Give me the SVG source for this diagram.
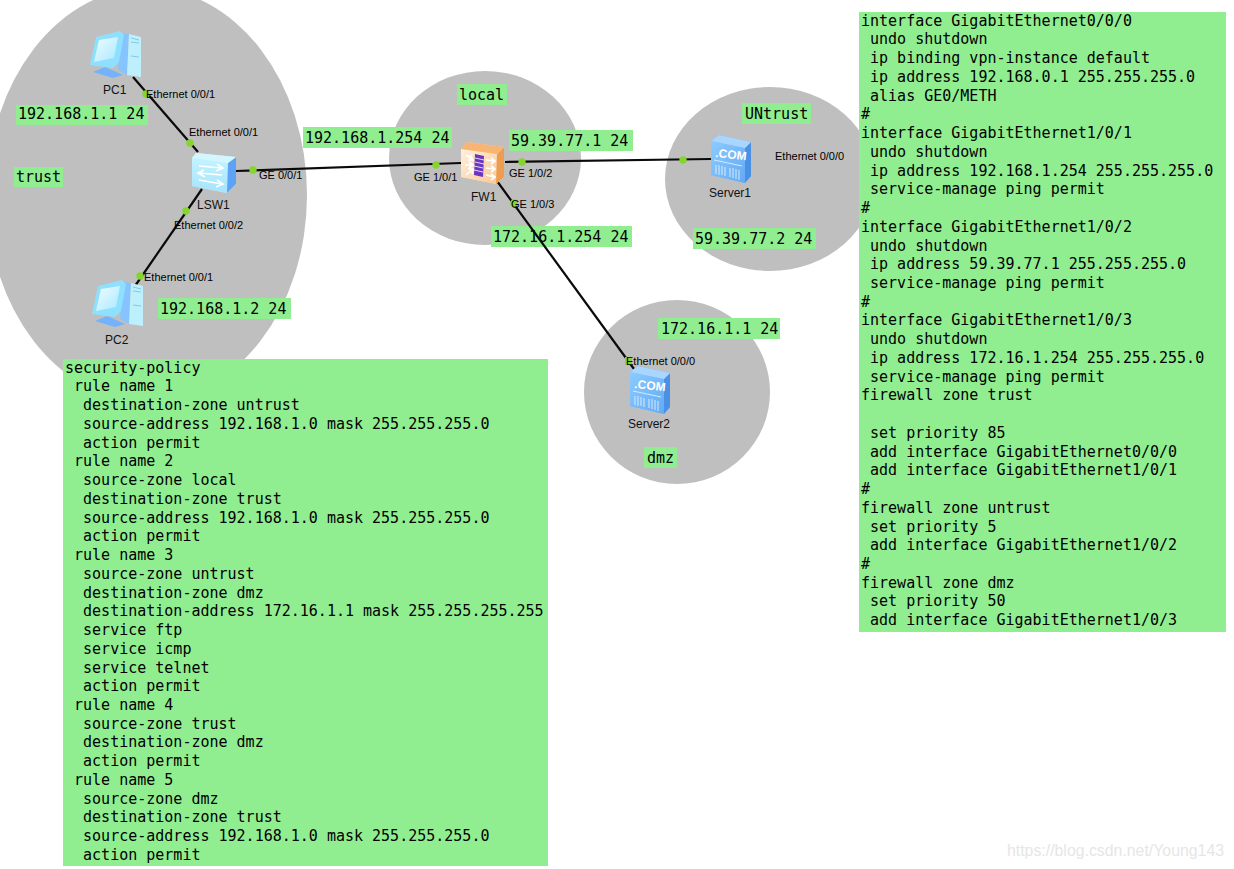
<svg xmlns="http://www.w3.org/2000/svg" width="1234" height="869" viewBox="0 0 1234 869">
<style>
.zone{fill:#bfbfbf}
.hl{fill:#90ee90}
.m{font-family:"DejaVu Sans Mono",monospace;font-size:15px;fill:#000;white-space:pre}
.s{font-family:"Liberation Sans",Arial,sans-serif;font-size:11px;fill:#000}
.l{font-family:"Liberation Sans",Arial,sans-serif;font-size:12px;fill:#111}
.c{stroke:#0a0a0a;stroke-width:2.2;fill:none}
.d{fill:#84d62c}
.wa{stroke:#fff;stroke-width:1.6;fill:none}
</style>
<defs>
<linearGradient id="scr" x1="0" y1="0" x2="1" y2="1"><stop offset="0" stop-color="#f0fdff"/><stop offset="1" stop-color="#a8e8ff"/></linearGradient>
<linearGradient id="swf" x1="0" y1="0" x2="0" y2="1"><stop offset="0" stop-color="#c4f3ff"/><stop offset="1" stop-color="#a4e4fb"/></linearGradient>
<linearGradient id="fwf" x1="0" y1="0" x2="1" y2="1"><stop offset="0" stop-color="#fff0dc"/><stop offset="1" stop-color="#fbc896"/></linearGradient>
<linearGradient id="srf" x1="0" y1="0" x2="1" y2="1"><stop offset="0" stop-color="#8ccbff"/><stop offset="1" stop-color="#64aaf5"/></linearGradient>
<g id="pc">
<path d="M93 72 L105 67 L123 75 L113 78Z" fill="#74b2fb"/>
<path d="M121 33 L129 34 L127 75 L118 70Z" fill="#86c4ff"/>
<path d="M129 34 L141 37 L141 77 L127 75Z" fill="#bdf0fc"/>
<path d="M131 38 L139 40 M131 42 L139 43 M131 56 L139 57" stroke="#86c8e4" stroke-width="1" fill="none"/>
<path d="M120 31 L124 35 L119 62 L113 68 L90 65 L96 37Z" fill="#8ee0ff"/>
<path d="M99 40 L118 37 L114 58 L94 62Z" fill="url(#scr)"/>
</g>
<g id="srv">
<path d="M0 6 L8 0 L40 7 L40 41 L34 48 L0 40Z" fill="#74b6fb"/>
<path d="M0 6 L34 13 L34 48 L0 40Z" fill="url(#srf)"/>
<path d="M34 13 L40 7 L40 41 L34 48Z" fill="#4a90e4"/>
<path d="M0 6 L8 0 L40 7 L34 13Z" fill="#a8d6ff"/>
<text x="4" y="22" font-family="Liberation Sans,sans-serif" font-size="12" font-weight="bold" fill="#fff" transform="rotate(6 4 22)">.COM</text>
<path d="M3 25 L31 31 M5 30 V39 M8 30 V40 M11 31 V40 M14 32 V41 M19 33 V42 M22 33 V43 M25 34 V44 M28 35 V45" stroke="#d4ecff" stroke-width="1" fill="none"/>
</g>
</defs>
<rect width="1234" height="869" fill="#fff"/>
<g id="zones">
<ellipse class="zone" cx="147" cy="195" rx="160" ry="207"/>
<ellipse class="zone" cx="485" cy="158" rx="96" ry="87"/>
<ellipse class="zone" cx="770" cy="179" rx="105" ry="92"/>
<ellipse class="zone" cx="677" cy="392" rx="93" ry="92"/>
</g>
<g id="labels">
<rect class="hl" x="16" y="105" width="132" height="20"/>
<rect class="hl" x="14" y="167" width="49" height="20"/>
<rect class="hl" x="158" y="298" width="133" height="21"/>
<rect class="hl" x="303" y="127" width="149" height="21"/>
<rect class="hl" x="457" y="84" width="50" height="21"/>
<rect class="hl" x="509" y="130" width="124" height="21"/>
<rect class="hl" x="491" y="226" width="141" height="21"/>
<rect class="hl" x="742" y="103" width="69" height="21"/>
<rect class="hl" x="693" y="228" width="123" height="21"/>
<rect class="hl" x="658" y="318" width="122" height="21"/>
<rect class="hl" x="644" y="447" width="33" height="21"/>
<text class="m" x="18" y="119">192.168.1.1 24</text>
<text class="m" x="16" y="182">trust</text>
<text class="m" x="160" y="314">192.168.1.2 24</text>
<text class="m" x="305" y="143">192.168.1.254 24</text>
<text class="m" x="459" y="100">local</text>
<text class="m" x="511" y="146">59.39.77.1 24</text>
<text class="m" x="493" y="242">172.16.1.254 24</text>
<text class="m" x="745" y="119">UNtrust</text>
<text class="m" x="695" y="244">59.39.77.2 24</text>
<text class="m" x="661" y="334">172.16.1.1 24</text>
<text class="m" x="647" y="463">dmz</text>
</g>
<g id="connectors">
<path class="c" d="M133 77 L198 152"/>
<path class="c" d="M202 189 L135 286"/>
<path class="c" d="M236 171 L461 163"/>
<path class="c" d="M505 162 L711 159"/>
<path class="c" d="M497 181 L634 369"/>
<circle class="d" cx="146" cy="94" r="3.7"/>
<circle class="d" cx="190" cy="143" r="3.7"/>
<circle class="d" cx="186" cy="211" r="3.7"/>
<circle class="d" cx="140" cy="276" r="3.7"/>
<circle class="d" cx="253" cy="170" r="3.7"/>
<circle class="d" cx="436" cy="165" r="3.7"/>
<circle class="d" cx="522" cy="162" r="3.7"/>
<circle class="d" cx="683" cy="160" r="3.7"/>
<circle class="d" cx="514" cy="203" r="3.7"/>
<rect class="d" x="625" y="357" width="7" height="8"/>
</g>
<g id="PC1"><use href="#pc"/><text class="l" x="103" y="94">PC1</text></g>
<g id="PC2"><use href="#pc" x="2" y="249"/><text class="l" x="105" y="344">PC2</text></g>
<g id="LSW1">
<path d="M192 158 L196 153 L236 157 L236 184 L227 193 L192 186Z" fill="#b8efff"/>
<path d="M192 158 L228 163 L227 193 L192 186Z" fill="url(#swf)"/>
<path d="M228 163 L236 157 L236 184 L227 193Z" fill="#5ca3f5"/>
<path d="M192 158 L196 153 L236 157 L228 163Z" fill="#d4f7ff"/>
<g class="wa">
<path d="M199 166 L222 168 M217 164 L223 168 L216 171"/>
<path d="M199 173 L222 175 M204 170 L198 173 L205 177"/>
<path d="M199 180 L222 184 M217 180 L223 184 L216 187"/>
</g>
<text class="l" x="197" y="209">LSW1</text>
</g>
<g id="FW1">
<path d="M461 149 L467 142 L504 147 L504 177 L496 184 L461 177Z" fill="#fbd5ac"/>
<path d="M461 149 L497 154 L496 184 L461 177Z" fill="url(#fwf)"/>
<path d="M497 154 L504 147 L504 177 L496 184Z" fill="#ee9c50"/>
<path d="M461 149 L467 142 L504 147 L497 154Z" fill="#f7b473"/>
<path d="M475 154 L484 156 L483 177 L474 175Z" fill="#6a35c0"/>
<path d="M475 158 L484 160 M475 162 L484 164 M474 166 L483 168 M474 170 L483 172" stroke="#fff" stroke-width="0.8"/>
<g class="wa">
<path d="M466 155 L472 159 M470 155 L473 160 L468 160"/>
<path d="M465 165 L472 165 M469 162 L473 165 L469 168"/>
<path d="M466 175 L472 170 M468 169 L473 169 L472 174"/>
<path d="M486 160 L494 161 M491 158 L495 161 L491 164"/>
<path d="M486 168 L494 169 M491 166 L495 169 L491 172"/>
<path d="M486 175 L494 177 M491 174 L495 177 L491 180"/>
</g>
<text class="l" x="471" y="201">FW1</text>
</g>
<g id="Server1"><use href="#srv" x="711" y="135"/><text class="l" x="709" y="197">Server1</text></g>
<g id="Server2"><use href="#srv" x="630" y="366"/><text class="l" x="628" y="428">Server2</text></g>
<g id="port-labels">
<text class="s" x="146" y="98">Ethernet 0/0/1</text>
<text class="s" x="189" y="136">Ethernet 0/0/1</text>
<text class="s" x="174" y="229">Ethernet 0/0/2</text>
<text class="s" x="144" y="281">Ethernet 0/0/1</text>
<text class="s" x="259" y="179">GE 0/0/1</text>
<text class="s" x="414" y="181">GE 1/0/1</text>
<text class="s" x="509" y="177">GE 1/0/2</text>
<text class="s" x="511" y="208">GE 1/0/3</text>
<text class="s" x="775" y="160">Ethernet 0/0/0</text>
<text class="s" x="626" y="365">Ethernet 0/0/0</text>
</g>
<g id="policy">
<rect class="hl" x="63" y="359" width="485" height="507"/>
<text class="m" x="65" y="373">security-policy</text>
<text class="m" x="65" y="391">&#160;rule name 1</text>
<text class="m" x="65" y="410">&#160;&#160;destination-zone untrust</text>
<text class="m" x="65" y="429">&#160;&#160;source-address 192.168.1.0 mask 255.255.255.0</text>
<text class="m" x="65" y="448">&#160;&#160;action permit</text>
<text class="m" x="65" y="466">&#160;rule name 2</text>
<text class="m" x="65" y="485">&#160;&#160;source-zone local</text>
<text class="m" x="65" y="504">&#160;&#160;destination-zone trust</text>
<text class="m" x="65" y="523">&#160;&#160;source-address 192.168.1.0 mask 255.255.255.0</text>
<text class="m" x="65" y="541">&#160;&#160;action permit</text>
<text class="m" x="65" y="560">&#160;rule name 3</text>
<text class="m" x="65" y="579">&#160;&#160;source-zone untrust</text>
<text class="m" x="65" y="598">&#160;&#160;destination-zone dmz</text>
<text class="m" x="65" y="616">&#160;&#160;destination-address 172.16.1.1 mask 255.255.255.255</text>
<text class="m" x="65" y="635">&#160;&#160;service ftp</text>
<text class="m" x="65" y="654">&#160;&#160;service icmp</text>
<text class="m" x="65" y="673">&#160;&#160;service telnet</text>
<text class="m" x="65" y="691">&#160;&#160;action permit</text>
<text class="m" x="65" y="710">&#160;rule name 4</text>
<text class="m" x="65" y="729">&#160;&#160;source-zone trust</text>
<text class="m" x="65" y="747">&#160;&#160;destination-zone dmz</text>
<text class="m" x="65" y="766">&#160;&#160;action permit</text>
<text class="m" x="65" y="785">&#160;rule name 5</text>
<text class="m" x="65" y="804">&#160;&#160;source-zone dmz</text>
<text class="m" x="65" y="822">&#160;&#160;destination-zone trust</text>
<text class="m" x="65" y="841">&#160;&#160;source-address 192.168.1.0 mask 255.255.255.0</text>
<text class="m" x="65" y="860">&#160;&#160;action permit</text>
</g>
<g id="config">
<rect class="hl" x="859" y="12" width="367" height="620"/>
<text class="m" x="861" y="26">interface GigabitEthernet0/0/0</text>
<text class="m" x="861" y="44">&#160;undo shutdown</text>
<text class="m" x="861" y="63">&#160;ip binding vpn-instance default</text>
<text class="m" x="861" y="82">&#160;ip address 192.168.0.1 255.255.255.0</text>
<text class="m" x="861" y="101">&#160;alias GE0/METH</text>
<text class="m" x="861" y="119">#</text>
<text class="m" x="861" y="138">interface GigabitEthernet1/0/1</text>
<text class="m" x="861" y="157">&#160;undo shutdown</text>
<text class="m" x="861" y="176">&#160;ip address 192.168.1.254 255.255.255.0</text>
<text class="m" x="861" y="194">&#160;service-manage ping permit</text>
<text class="m" x="861" y="213">#</text>
<text class="m" x="861" y="232">interface GigabitEthernet1/0/2</text>
<text class="m" x="861" y="251">&#160;undo shutdown</text>
<text class="m" x="861" y="269">&#160;ip address 59.39.77.1 255.255.255.0</text>
<text class="m" x="861" y="288">&#160;service-manage ping permit</text>
<text class="m" x="861" y="307">#</text>
<text class="m" x="861" y="325">interface GigabitEthernet1/0/3</text>
<text class="m" x="861" y="344">&#160;undo shutdown</text>
<text class="m" x="861" y="363">&#160;ip address 172.16.1.254 255.255.255.0</text>
<text class="m" x="861" y="382">&#160;service-manage ping permit</text>
<text class="m" x="861" y="400">firewall zone trust</text>
<text class="m" x="861" y="438">&#160;set priority 85</text>
<text class="m" x="861" y="457">&#160;add interface GigabitEthernet0/0/0</text>
<text class="m" x="861" y="475">&#160;add interface GigabitEthernet1/0/1</text>
<text class="m" x="861" y="494">#</text>
<text class="m" x="861" y="513">firewall zone untrust</text>
<text class="m" x="861" y="532">&#160;set priority 5</text>
<text class="m" x="861" y="550">&#160;add interface GigabitEthernet1/0/2</text>
<text class="m" x="861" y="569">#</text>
<text class="m" x="861" y="588">firewall zone dmz</text>
<text class="m" x="861" y="606">&#160;set priority 50</text>
<text class="m" x="861" y="625">&#160;add interface GigabitEthernet1/0/3</text>
</g>
<text id="watermark" x="1007" y="856" font-family="Liberation Sans,sans-serif" font-size="15.85" fill="#e6e6e6">https://blog.csdn.net/Young143</text>
</svg>
